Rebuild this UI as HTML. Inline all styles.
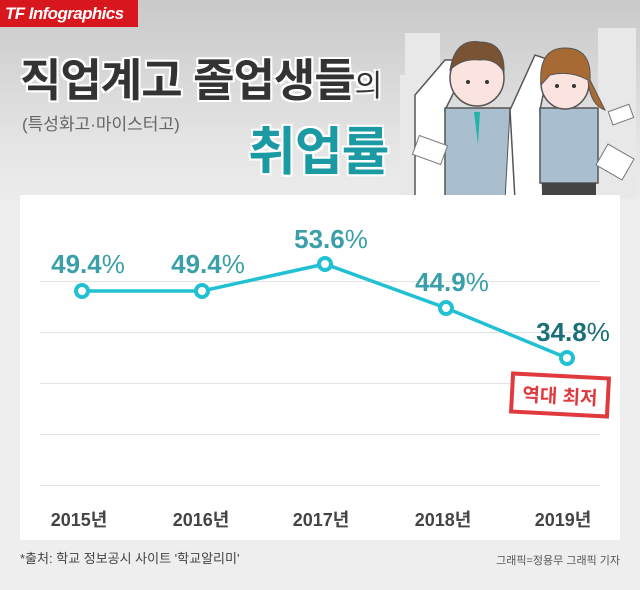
<!DOCTYPE html>
<html><head><meta charset="utf-8"><style>
body{margin:0;width:640px;height:590px;overflow:hidden;background:#eeeeee;font-family:"Liberation Sans","Noto Sans CJK KR",sans-serif;position:relative}
.hdr{position:absolute;left:0;top:0;width:640px;height:200px;background:linear-gradient(#c9c9c9,#e4e4e4 70%,#ececec)}
.abs{position:absolute;white-space:nowrap}
</style></head><body>
<div class="hdr"></div>
<svg class="abs" style="left:400px;top:0" width="240" height="200">
<g fill="#e8e8e8"><rect x="5" y="33" width="35" height="160"/><rect x="198" y="28" width="38" height="170"/><rect x="0" y="75" width="15" height="120"/></g>
<path d="M15 95 L45 60 L70 60 L45 110 L50 200 L15 200Z" fill="#fff" stroke="#555" stroke-width="1.5"/>
<rect x="45" y="108" width="65" height="92" fill="#a9bfcf" stroke="#555" stroke-width="1.5"/>
<path d="M110 110 L120 200 L105 200Z" fill="#fff" stroke="#555"/>
<ellipse cx="77" cy="78" rx="27" ry="28" fill="#fbe3e0" stroke="#555" stroke-width="1.5"/>
<path d="M50 70 Q55 38 80 42 Q105 42 104 72 Q95 58 80 60 Q62 58 50 70Z" fill="#7a5234" stroke="#555"/>
<path d="M74 112 L80 112 L78 145Z" fill="#26b3a8"/>
<circle cx="68" cy="82" r="2" fill="#333"/><circle cx="87" cy="82" r="2" fill="#333"/>
<path d="M110 110 L135 55 L150 60 L140 110 L143 200 L115 200Z" fill="#fff" stroke="#555" stroke-width="1.5"/>
<rect x="140" y="108" width="58" height="75" fill="#a9bfcf" stroke="#555" stroke-width="1.5"/>
<rect x="142" y="183" width="54" height="17" fill="#444"/>
<ellipse cx="165" cy="83" rx="24" ry="26" fill="#fbe3e0" stroke="#555" stroke-width="1.5"/>
<path d="M141 85 Q138 48 165 48 Q192 48 190 80 L205 110 Q190 105 188 80 Q170 70 150 75Z" fill="#a86a34" stroke="#555"/>
<circle cx="157" cy="86" r="2" fill="#333"/><circle cx="174" cy="86" r="2" fill="#333"/>
<g fill="#fff" stroke="#777"><rect x="15" y="140" width="30" height="20" transform="rotate(20 30 150)"/><rect x="200" y="150" width="30" height="24" transform="rotate(30 215 162)"/><rect x="210" y="108" width="22" height="14" transform="rotate(-20 220 115)"/></g>
</svg>
<div class="abs" style="left:0;top:0;width:138px;height:27px;background:#d8161d;color:#fff;font-weight:bold;font-style:italic;font-size:17px;letter-spacing:-0.6px;line-height:27px;text-indent:5px;overflow:hidden">TF Infographics</div>
<div class="abs" style="left:20px;top:44px;font-size:45px;font-weight:bold;color:#333;letter-spacing:-1px;text-shadow:2px 2px 0 #fff,-2px -2px 0 #fff,2px -2px 0 #fff,-2px 2px 0 #fff">직업계고 졸업생들<span style="font-size:30px;font-weight:normal">의</span></div>
<div class="abs" style="left:22px;top:110px;font-size:17px;color:#666">(특성화고·마이스터고)</div>
<div class="abs" style="left:248px;top:110px;font-size:52px;font-weight:bold;color:#1c9aa3;letter-spacing:-1px;text-shadow:2px 2px 0 #fff,-2px -2px 0 #fff,2px -2px 0 #fff,-2px 2px 0 #fff">취업률</div>
<div class="abs" style="left:20px;top:195px;width:600px;height:345px;background:#fff"></div>
<svg class="abs" style="left:0;top:0" width="640" height="590">
<g stroke="#e2e2e2" stroke-width="1"><line x1="40" x2="600" y1="281.5" y2="281.5"/><line x1="40" x2="600" y1="332.5" y2="332.5"/><line x1="40" x2="600" y1="383.5" y2="383.5"/><line x1="40" x2="600" y1="434.5" y2="434.5"/><line x1="40" x2="600" y1="485.5" y2="485.5"/></g>
<polyline points="82,291 202,291 325,264 446,308 567,358" fill="none" stroke="#22c0d3" stroke-width="3.5"/>
<g fill="#fff" stroke="#22c0d3" stroke-width="4"><circle cx="82" cy="291" r="6"/><circle cx="202" cy="291" r="6"/><circle cx="325" cy="264" r="6"/><circle cx="446" cy="308" r="6"/><circle cx="567" cy="358" r="6"/></g>
<g font-family="Liberation Sans,sans-serif" font-size="26" fill="#3a9fa8" text-anchor="middle" font-weight="bold">
<text x="88" y="273">49.4<tspan font-weight="normal">%</tspan></text>
<text x="208" y="273">49.4<tspan font-weight="normal">%</tspan></text>
<text x="331" y="248">53.6<tspan font-weight="normal">%</tspan></text>
<text x="452" y="291">44.9<tspan font-weight="normal">%</tspan></text>
<text x="573" y="341" fill="#1b6f77">34.8<tspan font-weight="normal">%</tspan></text>
</g>
<g transform="rotate(3 560 395)"><rect x="512" y="376" width="96" height="38" fill="#fff" stroke="#e03a3e" stroke-width="4"/>
<text x="560" y="403" text-anchor="middle" font-family="Liberation Sans,Noto Sans CJK KR,sans-serif" font-size="19" font-weight="bold" fill="#e03a3e">역대 최저</text></g>
<g font-family="Liberation Sans,Noto Sans CJK KR,sans-serif" font-size="18" fill="#444" text-anchor="middle" font-weight="bold">
<text x="79" y="526">2015년</text><text x="201" y="526">2016년</text><text x="321" y="526">2017년</text><text x="443" y="526">2018년</text><text x="563" y="526">2019년</text>
</g>
<text x="20" y="563" font-family="Liberation Sans,Noto Sans CJK KR,sans-serif" font-size="13" fill="#444">*출처: 학교 정보공시 사이트 '학교알리미'</text>
<text x="620" y="564" text-anchor="end" font-family="Liberation Sans,Noto Sans CJK KR,sans-serif" font-size="11" fill="#555">그래픽=정용무 그래픽 기자</text>
</svg>
</body></html>
